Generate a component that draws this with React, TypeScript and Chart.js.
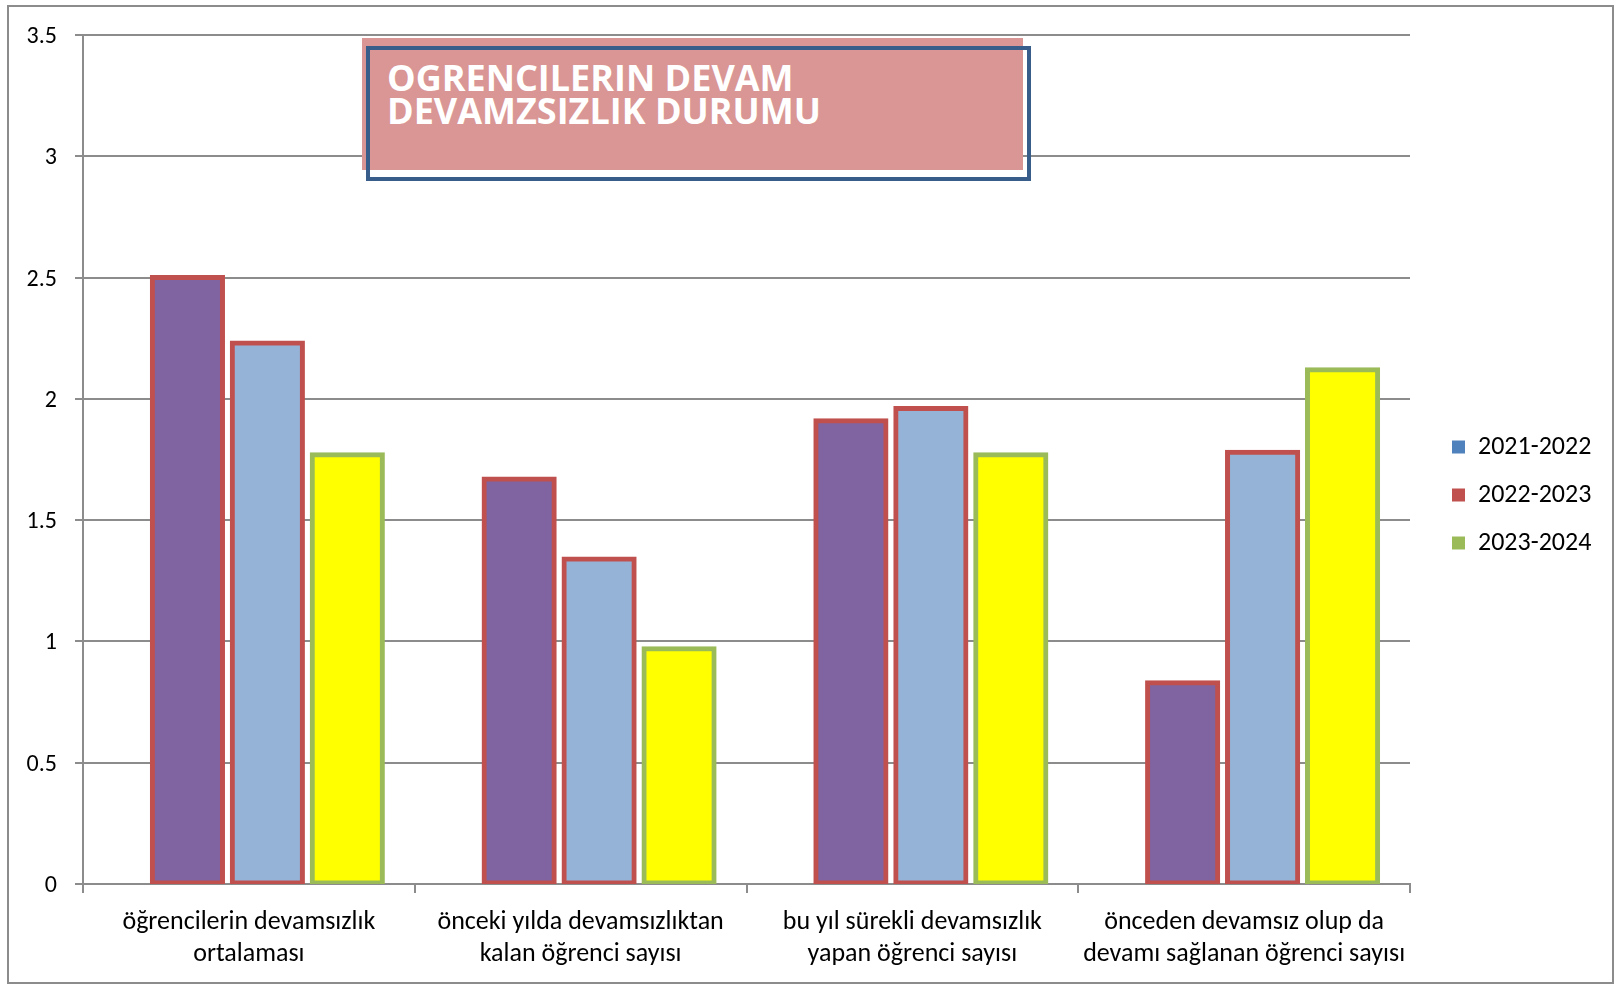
import React, { useEffect, useRef } from "react";
import { Chart, registerables } from "chart.js";

Chart.register(...registerables);

// ---- data ----
const categories: string[][] = [
  ["öğrencilerin devamsızlık", "ortalaması"],
  ["önceki yılda devamsızlıktan", "kalan öğrenci sayısı"],
  ["bu yıl sürekli devamsızlık", "yapan öğrenci sayısı"],
  ["önceden devamsız olup da", "devamı sağlanan öğrenci sayısı"],
];
const seriesNames = ["2021-2022", "2022-2023", "2023-2024"];
const values2021 = [2.5, 1.67, 1.91, 0.83];
const values2022 = [2.23, 1.34, 1.96, 1.78];
const values2023 = [1.77, 0.97, 1.77, 2.12];
const yMin = 0;
const yMax = 3.5;
const yStep = 0.5;
const titleLines = ["OGRENCILERIN DEVAM", "DEVAMZSIZLIK DURUMU"];

// ---- styles ----
const FONT = "Carlito, Lato, 'Open Sans', sans-serif";
const TITLE_FONT = "'Open Sans', Lato, sans-serif";
const GRID = "#8c8c8c";
const barFills = ["#8064A2", "#95B3D7", "#FFFF00"];
const barBorders = ["#C0504D", "#C0504D", "#9BBB59"];
const legendColors = ["#4F81BD", "#C0504D", "#9BBB59"];

const W = 1616;
const H = 985;
const LEGEND_FONT = 26;
const LEGEND_PAD = 22;
const LEGEND_BOX = 13;
const LEGEND_LEFT = 1430;
const PLOT_RIGHT = 1410;

export default function App() {
  const ref = useRef<HTMLCanvasElement | null>(null);

  useEffect(() => {
    const canvas = ref.current;
    if (!canvas) return;

    const mctx = document.createElement("canvas").getContext("2d")!;
    mctx.font = `${LEGEND_FONT}px ${FONT}`;
    const textW = Math.max(...seriesNames.map((s) => mctx.measureText(s).width));
    const legendW = LEGEND_PAD + LEGEND_BOX + LEGEND_FONT / 2 + textW + 10;
    const padRight = Math.max(0, W - LEGEND_LEFT - legendW);

    const seriesValues = [values2021, values2022, values2023];

    const chart = new Chart(canvas, {
      type: "bar",
      data: {
        labels: categories,
        datasets: seriesValues.map((vals, si) => ({
          label: seriesNames[si],
          data: vals.map((v, i) => ({ x: i, y: v })),
          backgroundColor: barFills[si],
          borderColor: barBorders[si],
          borderWidth: 5,
          borderSkipped: false,
          inflateAmount: 2.5,
          xAxisID: "xb",
          yAxisID: "y",
          categoryPercentage: 0.723,
          barPercentage: 0.8775,
        })),
      },
      options: {
        responsive: false,
        animation: false,
        devicePixelRatio: 1,
        layout: { padding: { top: 5, right: padRight, bottom: 0, left: 0 } },
        plugins: {
          title: { display: false },
          tooltip: { enabled: false },
          legend: {
            display: true,
            position: "right",
            align: "center",
            labels: {
              boxWidth: LEGEND_BOX,
              boxHeight: LEGEND_BOX,
              padding: LEGEND_PAD,
              color: "#000",
              font: { size: LEGEND_FONT, family: FONT },
              generateLabels: () =>
                seriesNames.map((n, i) => ({
                  text: n,
                  fillStyle: legendColors[i],
                  strokeStyle: legendColors[i],
                  lineWidth: 0,
                  hidden: false,
                  datasetIndex: i,
                  fontColor: "#000",
                })),
            },
          },
        },
        scales: {
          x: {
            type: "category",
            position: "bottom",
            offset: true,
            grid: {
              display: true,
              offset: true,
              drawOnChartArea: false,
              drawTicks: true,
              tickLength: 9,
              color: GRID,
              lineWidth: 2,
            },
            border: { display: true, color: GRID, width: 2 },
            ticks: {
              color: "#000",
              font: { size: 26, family: FONT, lineHeight: 32 / 26 },
              padding: 13,
              maxRotation: 0,
              minRotation: 0,
              autoSkip: false,
            },
            afterFit: (s: any) => {
              s.height = 101;
            },
          },
          xb: {
            type: "linear",
            axis: "x",
            display: false,
            offset: false,
            min: -0.5557,
            max: 3.4443,
            afterBuildTicks: (s: any) => {
              s.ticks = categories.map((_, i) => ({ value: i }));
            },
          },
          gapTop: {
            type: "linear",
            axis: "x",
            position: "top",
            display: true,
            grid: { display: false, drawTicks: false },
            ticks: { display: false },
            border: { display: false },
            afterFit: (s: any) => {
              s.height = 30;
            },
          },
          y: {
            type: "linear",
            position: "left",
            min: yMin,
            max: yMax,
            ticks: {
              stepSize: yStep,
              color: "#000",
              font: { size: 24, family: FONT },
              padding: 18,
              labelOffset: 2,
              callback: (v: any) => String(+Number(v).toFixed(2)),
            },
            grid: { color: GRID, lineWidth: 2, tickLength: 8, drawTicks: true },
            border: { display: true, color: GRID, width: 2 },
            afterFit: (s: any) => {
              s.width = 83;
            },
          },
          gap: {
            type: "linear",
            axis: "y",
            position: "right",
            display: true,
            grid: { display: false, drawTicks: false },
            ticks: { display: false },
            border: { display: false },
            afterFit: (s: any) => {
              s.width = LEGEND_LEFT - PLOT_RIGHT;
            },
          },
        },
      },
    } as any);

    return () => chart.destroy();
  }, []);

  return (
    <div
      style={{
        position: "fixed",
        left: 0,
        top: 0,
        width: W,
        height: H,
        background: "#fff",
        overflow: "hidden",
      }}
    >
      <canvas
        ref={ref}
        width={W}
        height={H}
        style={{ position: "absolute", left: 0, top: 0, width: W, height: H }}
      />
      <div
        style={{
          position: "absolute",
          left: 7,
          top: 5,
          width: 1607,
          height: 979,
          border: `2px solid ${GRID}`,
          boxSizing: "border-box",
          pointerEvents: "none",
        }}
      />
      <div
        style={{
          position: "absolute",
          left: 362,
          top: 38,
          width: 661,
          height: 132,
          background: "#D99694",
        }}
      />
      <div
        style={{
          position: "absolute",
          left: 366,
          top: 46,
          width: 665,
          height: 135,
          border: "4px solid #385D8A",
          boxSizing: "border-box",
        }}
      />
      <div
        style={{
          position: "absolute",
          left: 387,
          top: 61,
          color: "#fff",
          fontFamily: TITLE_FONT,
          fontWeight: 700,
          fontSize: 36,
          lineHeight: "33px",
          whiteSpace: "nowrap",
          letterSpacing: 0,
        }}
      >
        {titleLines.map((t, i) => (
          <div key={i}>{t}</div>
        ))}
      </div>
    </div>
  );
}
